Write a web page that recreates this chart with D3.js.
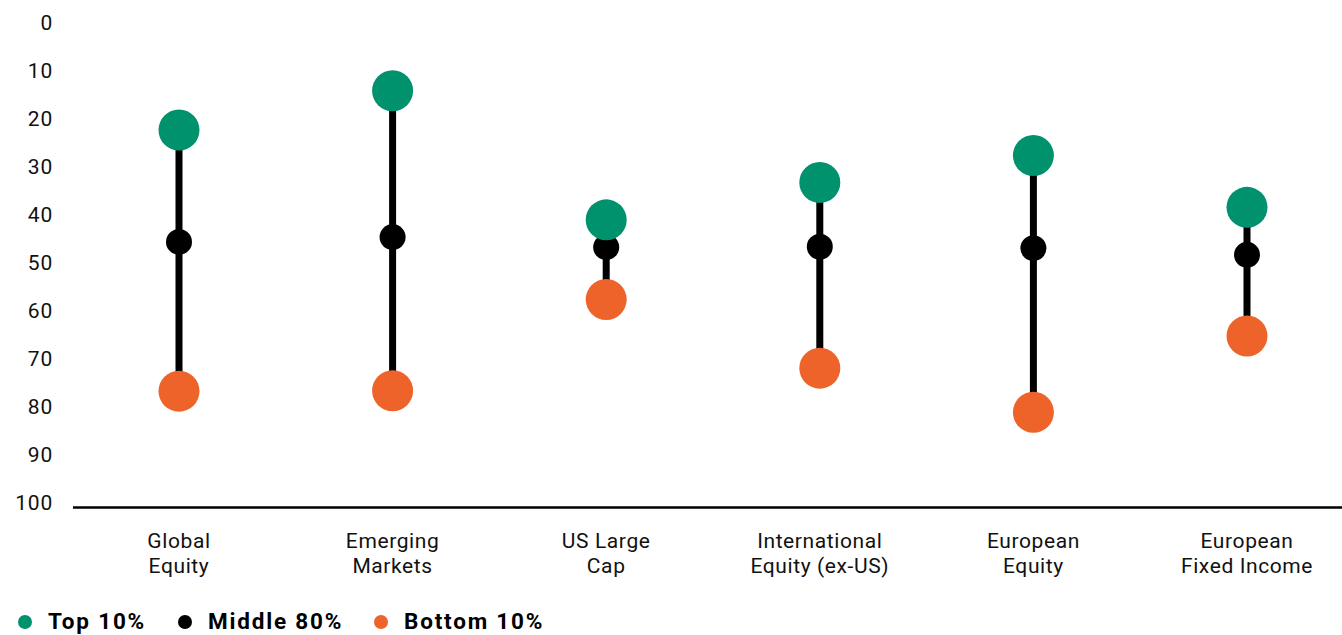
<!DOCTYPE html>
<html><head><meta charset="utf-8">
<script src="https://cdn.jsdelivr.net/npm/d3@7"></script>
<style>body{margin:0;background:#fff;} text{font-family:Roboto,"Liberation Sans",sans-serif;}</style>
</head><body>
<svg id="c" width="1342" height="635"></svg>
<script>
const categories = [["Global","Equity"],["Emerging","Markets"],["US Large","Cap"],["International","Equity (ex-US)"],["European","Equity"],["European","Fixed Income"]];
const top10 = [22.2, 14.0, 40.9, 33.1, 27.5, 38.3];
const middle80 = [45.5, 44.5, 46.6, 46.5, 46.8, 48.2];
const bottom10 = [76.6, 76.5, 57.5, 71.8, 81.0, 65.1];
const yTicks = [0,10,20,30,40,50,60,70,80,90,100];
const legendItems = [{label:"Top 10%", color:"#00916D"},{label:"Middle 80%", color:"#000000"},{label:"Bottom 10%", color:"#ED6329"}];

const svg = d3.select("#c");
const keys = categories.map((c,i)=>i);
const x = d3.scalePoint().domain(keys).range([72.2, 1353.8]).padding(0.5);
const y = d3.scaleLinear().domain([0,100]).range([23.5, 503.5]);

// y tick labels
const yAxis = svg.append("g").attr("transform","translate(53,0)")
  .call(d3.axisLeft(y).tickValues(yTicks).tickSize(0).tickPadding(0).tickFormat(d3.format("d")));
yAxis.select(".domain").remove();
yAxis.selectAll("text").attr("font-size",21).attr("letter-spacing",0.8).attr("fill","#111").attr("dy","0.3em").attr("font-family","Roboto, sans-serif");

// baseline
svg.append("line").attr("x1",73).attr("x2",1342).attr("y1",y(100)+4).attr("y2",y(100)+4)
  .attr("stroke","#000").attr("stroke-width",2.5);

// x labels
const xl = svg.append("g").selectAll("text").data(categories).join("text")
  .attr("text-anchor","middle").attr("font-size",21).attr("letter-spacing",0.6).attr("fill","#111")
  .attr("x",(d,i)=>x(i)).attr("y",548);
xl.each(function(d){
  const t=d3.select(this);
  d.forEach((line,j)=>t.append("tspan").attr("x",t.attr("x")).attr("dy", j===0?0:25).text(line));
});

const g = svg.append("g");
keys.forEach(i=>{
  g.append("line").attr("x1",x(i)).attr("x2",x(i)).attr("y1",y(top10[i])).attr("y2",y(bottom10[i]))
    .attr("stroke","#000").attr("stroke-width",7);
});
g.selectAll(".mid").data(keys).join("circle").attr("class","mid")
  .attr("cx",i=>x(i)).attr("cy",i=>y(middle80[i])).attr("r",13).attr("fill","#000");
g.selectAll(".top").data(keys).join("circle").attr("class","top")
  .attr("cx",i=>x(i)).attr("cy",i=>y(top10[i])).attr("r",20.5).attr("fill",legendItems[0].color);
g.selectAll(".bot").data(keys).join("circle").attr("class","bot")
  .attr("cx",i=>x(i)).attr("cy",i=>y(bottom10[i])).attr("r",20.5).attr("fill",legendItems[2].color);

// legend
const lx = [25, 185, 381];
const lg = svg.append("g");
legendItems.forEach((d,i)=>{
  lg.append("circle").attr("cx",lx[i]).attr("cy",622).attr("r",7).attr("fill",d.color);
  lg.append("text").attr("x",lx[i]+23).attr("y",629).attr("font-size",22.5).attr("letter-spacing",1.8).attr("font-weight","bold").attr("fill","#000").text(d.label);
});
</script>
</body></html>
